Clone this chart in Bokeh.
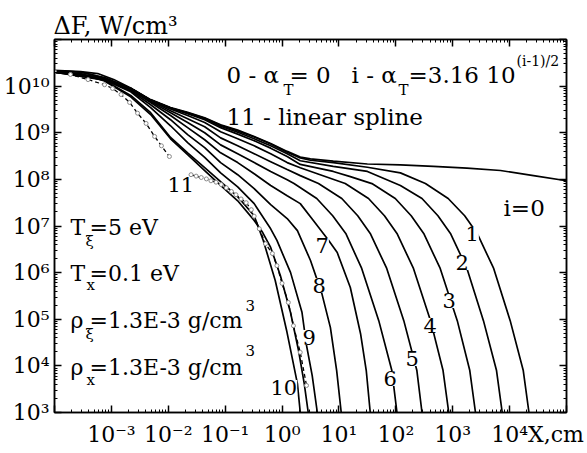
from bokeh.plotting import figure
from bokeh.models import Range1d, LogAxis, FixedTicker, CustomJSTickFormatter, Label
from bokeh.embed import file_html
from bokeh.resources import INLINE

FONT = "DejaVu Serif"

# ---- data: log10(X, cm) and log10(dF, W/cm^3) ----
ENV_LX = [-4.00, -3.54, -3.24, -2.96, -2.66, -2.31, -1.96, -1.66, -1.36, -1.08, -0.78, -0.49,
          -0.20, 0.09, 0.32, 0.50, 0.90, 1.50, 2.08, 2.66, 3.25, 3.84, 4.42, 5.00]
ENV_LY = [10.34, 10.31, 10.27, 10.14, 9.96, 9.71, 9.54, 9.44, 9.32, 9.17, 9.06, 8.92,
          8.77, 8.60, 8.48, 8.44, 8.39, 8.33, 8.31, 8.28, 8.24, 8.19, 8.08, 7.97]

C1_LX = [-4.00, -3.54, -3.12, -2.66, -2.31, -1.96, -1.66, -1.36, -1.08, -0.78, -0.49, -0.20, 0.09,
         0.32, 0.50, 0.90, 1.50, 2.08, 2.52, 2.92, 3.21, 3.43, 3.72, 4.01, 4.24, 4.34]
C1_LY = [10.33, 10.30, 10.18, 9.95, 9.70, 9.53, 9.43, 9.31, 9.16, 9.04, 8.91, 8.76, 8.58,
         8.46, 8.41, 8.36, 8.26, 8.14, 7.91, 7.59, 7.22, 6.84, 6.09, 4.97, 3.90, 3.00]

C2_LX = [-4.00, -3.54, -3.12, -2.66, -2.31, -1.96, -1.66, -1.36, -1.08, -0.78, -0.49, -0.20, 0.09,
         0.32, 0.90, 1.50, 2.08, 2.46, 2.74, 2.96, 3.25, 3.54, 3.77, 3.87]
C2_LY = [10.33, 10.30, 10.18, 9.95, 9.70, 9.53, 9.42, 9.30, 9.14, 9.01, 8.87, 8.72, 8.55,
         8.40, 8.28, 8.17, 7.87, 7.59, 7.22, 6.84, 6.09, 4.97, 3.90, 3.00]

C3_LX = [-4.00, -3.12, -2.66, -2.31, -1.96, -1.66, -1.36, -1.08, -0.78, -0.49, -0.20, 0.09,
         0.32, 0.90, 1.20, 1.58, 1.99, 2.27, 2.49, 2.78, 3.08, 3.30, 3.40]
C3_LY = [10.32, 10.17, 9.95, 9.70, 9.53, 9.41, 9.28, 9.11, 8.97, 8.83, 8.67, 8.49,
         8.32, 8.17, 8.06, 7.91, 7.59, 7.22, 6.84, 6.09, 4.97, 3.90, 3.00]

C4_LX = [-4.00, -3.12, -2.66, -2.31, -1.96, -1.66, -1.36, -1.08, -0.78, -0.49, -0.20, 0.09,
         0.32, 0.67, 1.11, 1.52, 1.80, 2.02, 2.31, 2.61, 2.83, 2.93]
C4_LY = [10.32, 10.17, 9.95, 9.70, 9.51, 9.37, 9.22, 9.02, 8.87, 8.72, 8.55, 8.36,
         8.25, 8.10, 7.91, 7.59, 7.22, 6.84, 6.09, 4.97, 3.90, 3.00]

C5_LX = [-4.00, -3.12, -2.66, -2.31, -1.96, -1.66, -1.36, -1.08, -0.78, -0.49, -0.20, 0.09,
         0.32, 0.64, 1.05, 1.33, 1.55, 1.84, 2.14, 2.37, 2.46]
C5_LY = [10.31, 10.16, 9.95, 9.69, 9.47, 9.30, 9.13, 8.89, 8.72, 8.55, 8.38, 8.21,
         8.08, 7.91, 7.59, 7.22, 6.84, 6.09, 4.97, 3.90, 3.00]

C6_LX = [-4.00, -3.12, -2.66, -2.31, -1.96, -1.66, -1.36, -1.08, -0.78, -0.49, -0.20, 0.09,
         0.21, 0.61, 0.89, 1.12, 1.40, 1.70, 1.93, 2.02]
C6_LY = [10.31, 10.16, 9.93, 9.67, 9.43, 9.22, 9.00, 8.74, 8.55, 8.36, 8.17, 7.99,
         7.91, 7.59, 7.22, 6.84, 6.09, 4.97, 3.90, 3.00]

C7_LX = [-4.00, -3.12, -2.66, -2.31, -1.96, -1.66, -1.36, -1.08, -0.78, -0.49, -0.20, 0.09,
         0.32, 0.55, 0.82, 0.97, 1.20, 1.38, 1.48, 1.55]
C7_LY = [10.31, 10.15, 9.92, 9.65, 9.37, 9.11, 8.85, 8.57, 8.36, 8.12, 7.87, 7.65,
         7.48, 7.12, 6.69, 6.43, 5.68, 4.69, 3.90, 3.00]

C8_LX = [-4.00, -3.12, -2.66, -2.31, -1.96, -1.66, -1.36, -1.08, -0.78, -0.49, -0.20, 0.09,
         0.27, 0.50, 0.70, 0.85, 0.96, 1.04]
C8_LY = [10.30, 10.14, 9.90, 9.60, 9.28, 8.96, 8.68, 8.36, 8.10, 7.80, 7.46, 7.16,
         6.90, 6.26, 5.55, 4.82, 3.90, 3.00]

C9_LX = [-4.00, -3.12, -2.66, -2.31, -1.96, -1.66, -1.36, -1.08, -0.78, -0.49, -0.20, -0.09,
         0.15, 0.35, 0.43, 0.53, 0.62]
C9_LY = [10.30, 10.13, 9.88, 9.54, 9.15, 8.79, 8.47, 8.14, 7.84, 7.48, 6.94, 6.69,
         6.00, 5.15, 4.44, 3.79, 3.00]

C10_LX = [-4.00, -3.54, -3.12, -2.66, -2.31, -1.96, -1.66, -1.36, -1.08, -0.78, -0.49, -0.33,
          -0.12, 0.08, 0.18, 0.27, 0.32]
C10_LY = [10.30, 10.27, 10.12, 9.80, 9.43, 8.90, 8.57, 8.25, 7.95, 7.63, 7.22, 6.69,
          5.83, 4.76, 4.16, 3.62, 3.00]

CB_LX = [-4.00, -3.54, -3.12, -2.66, -2.31, -1.96, -1.66, -1.36, -1.08, -0.78, -0.49, -0.34,
         -0.20, -0.03, 0.15, 0.29, 0.39, 0.46]
CB_LY = [10.29, 10.26, 10.11, 9.77, 9.39, 8.87, 8.53, 8.19, 7.87, 7.54, 7.12, 6.86,
         6.54, 5.94, 5.14, 4.33, 3.62, 3.00]

# curve 11 (linear spline): dashed with open circles, in two pieces
SPL_A_LX = [-4.00, -3.72, -3.41, -3.12, -2.98, -2.83, -2.68, -2.54, -2.39, -2.24, -2.12, -1.98]
SPL_A_LY = [10.31, 10.25, 10.14, 10.03, 9.95, 9.82, 9.65, 9.42, 9.20, 8.92, 8.72, 8.49]
SPL_B_LX = [-1.60, -1.51, -1.42, -1.33, -1.25, -1.16, -1.07, -0.98, -0.89, -0.81, -0.72, -0.63,
            -0.54, -0.49, -0.40, -0.29, -0.17, -0.09, 0.00, 0.11, 0.20, 0.32, 0.43]
SPL_B_LY = [8.10, 8.07, 8.04, 8.01, 7.97, 7.94, 7.89, 7.82, 7.74, 7.67, 7.58, 7.50,
            7.35, 7.21, 6.94, 6.62, 6.41, 6.15, 5.77, 5.36, 4.86, 4.29, 3.58]

X_DECADES = list(range(-4, 6))      # 1e-4 .. 1e5
Y_DECADES = list(range(3, 12))      # 1e3 .. 1e11
X_LABELLED = (-3, 4)
Y_LABELLED = (3, 10)
X_TITLE = "X,cm"
Y_TITLE = "\u0394F, W/cm\u00b3"


def pw(v):
    return [10.0 ** e for e in v]


p = figure(width=587, height=453, x_axis_type="log", y_axis_type="log",
           x_range=Range1d(10.0 ** X_DECADES[0], 10.0 ** X_DECADES[-1]),
           y_range=Range1d(10.0 ** Y_DECADES[0], 10.0 ** Y_DECADES[-1]),
           output_backend="svg", toolbar_location=None,
           min_border_left=54, min_border_right=21, min_border_top=39, min_border_bottom=41)
p.background_fill_color = "white"
p.border_fill_color = "white"
p.outline_line_color = "black"
p.outline_line_width = 1.5
p.xgrid.visible = False
p.ygrid.visible = False

p.title.text = Y_TITLE
p.title.align = "left"
p.title.offset = -1
p.title.standoff = 0
p.title.text_font = FONT
p.title.text_font_size = "24px"
p.title.text_font_style = "normal"
p.title.text_color = "black"

x_ticker = FixedTicker(ticks=[10.0 ** e for e in X_DECADES],
                       minor_ticks=[m * 10.0 ** e for e in X_DECADES[:-1] for m in range(2, 10)])
y_ticker = FixedTicker(ticks=[10.0 ** e for e in Y_DECADES],
                       minor_ticks=[m * 10.0 ** e for e in Y_DECADES[:-1] for m in range(2, 10)])

JS = """
const e = Math.round(Math.log10(tick));
if (e < lo || e > hi) { return ""; }
const m = {"-": "\u207b", "0": "\u2070", "1": "\u00b9", "2": "\u00b2", "3": "\u00b3",
           "4": "\u2074", "5": "\u2075", "6": "\u2076", "7": "\u2077", "8": "\u2078", "9": "\u2079"};
let s = "";
for (const c of String(e)) { s += m[c]; }
if (e == hi && suffix.length > 0) {
  return "\u00a0".repeat(npad) + "10" + s + suffix;
}
return "10" + s;
"""


def style_axis(ax, size):
    ax.axis_line_color = "black"
    ax.axis_line_width = 1.5
    ax.major_tick_in = 7
    ax.major_tick_out = 0
    ax.minor_tick_in = 3
    ax.minor_tick_out = 0
    ax.major_tick_line_width = 1.5
    ax.minor_tick_line_width = 1
    ax.major_tick_line_color = "black"
    ax.minor_tick_line_color = "black"
    ax.major_label_text_font = FONT
    ax.major_label_text_font_size = size
    ax.major_label_text_color = "black"


xa = p.below[0]
xa.ticker = x_ticker
xa.formatter = CustomJSTickFormatter(
    args=dict(lo=X_LABELLED[0], hi=X_LABELLED[1], suffix=X_TITLE, npad=8), code=JS)
style_axis(xa, "22px")
xa.major_label_standoff = 9

ya = p.left[0]
ya.ticker = y_ticker
ya.formatter = CustomJSTickFormatter(
    args=dict(lo=Y_LABELLED[0], hi=Y_LABELLED[1], suffix="", npad=0), code=JS)
style_axis(ya, "22px")
ya.major_label_standoff = 5

top = LogAxis(ticker=x_ticker, formatter=CustomJSTickFormatter(code="return '';"))
style_axis(top, "1px")
top.major_label_standoff = 0
p.add_layout(top, "above")
right = LogAxis(ticker=y_ticker, formatter=CustomJSTickFormatter(code="return '';"))
style_axis(right, "1px")
right.major_label_standoff = 0
p.add_layout(right, "right")

# ---- curves ----
solid = [(ENV_LX, ENV_LY), (C1_LX, C1_LY), (C2_LX, C2_LY), (C3_LX, C3_LY), (C4_LX, C4_LY),
         (C5_LX, C5_LY), (C6_LX, C6_LY), (C7_LX, C7_LY), (C8_LX, C8_LY), (C9_LX, C9_LY),
         (C10_LX, C10_LY), (CB_LX, CB_LY)]
for lx, ly in solid:
    p.line(pw(lx), pw(ly), line_color="black", line_width=1.7)

for lx, ly in [(SPL_A_LX, SPL_A_LY), (SPL_B_LX, SPL_B_LY)]:
    p.line(pw(lx), pw(ly), line_color="black", line_width=1.3, line_dash="4 3")
    p.scatter(pw(lx), pw(ly), marker="circle", size=4, line_color="#8a8a8a",
              fill_color="white", line_width=1)


# ---- texts (screen units relative to the frame's bottom-left) ----
def lab(text, sx, sy, size, bg=None):
    kw = {}
    if bg:
        kw["background_fill_color"] = bg
    p.add_layout(Label(x=sx, y=sy, x_units="screen", y_units="screen", text=text,
                       text_font=FONT, text_font_size=size, text_color="black",
                       text_align="left", text_baseline="alphabetic", **kw))


lab("0 - \u03b1", 172, 338, "23px")
lab("T", 229, 323, "15px")
lab("= 0", 235, 338, "23px")
lab("i - \u03b1", 297, 338, "23px")
lab("T", 344, 323, "15px")
lab("=3.16 10", 354, 338, "23px")
lab("(i-1)/2", 462, 352, "14px")
lab("11 - linear spline", 172, 296, "23px")
lab("i=0", 449, 205, "23px")

lab("T", 16, 185, "22px")
lab("\u03be", 31, 172, "15px")
lab("=5 eV", 35, 185, "22px")
lab("T", 16, 139, "22px")
lab("x", 32, 128, "15px")
lab("=0.1 eV", 35, 139, "22px")
lab("\u03c1", 16, 92, "22px")
lab("\u03be", 31, 79, "15px")
lab("=1.3E-3 g/cm", 35, 92, "22px")
lab("3", 191, 107, "15px")
lab("\u03c1", 16, 45, "22px")
lab("x", 32, 33, "15px")
lab("=1.3E-3 g/cm", 35, 45, "22px")
lab("3", 191, 62, "15px")

for t, sx, sy in [("1", 411, 179), ("2", 401, 150), ("3", 388, 112), ("4", 369, 87),
                  ("5", 351, 54), ("6", 329, 34), ("7", 261, 167), ("8", 258, 127),
                  ("9", 248, 75), ("10", 216, 25), ("11", 113, 228)]:
    lab(t, sx, sy, "21px", bg="white")

open("out.html", "w").write(file_html(p, INLINE))
